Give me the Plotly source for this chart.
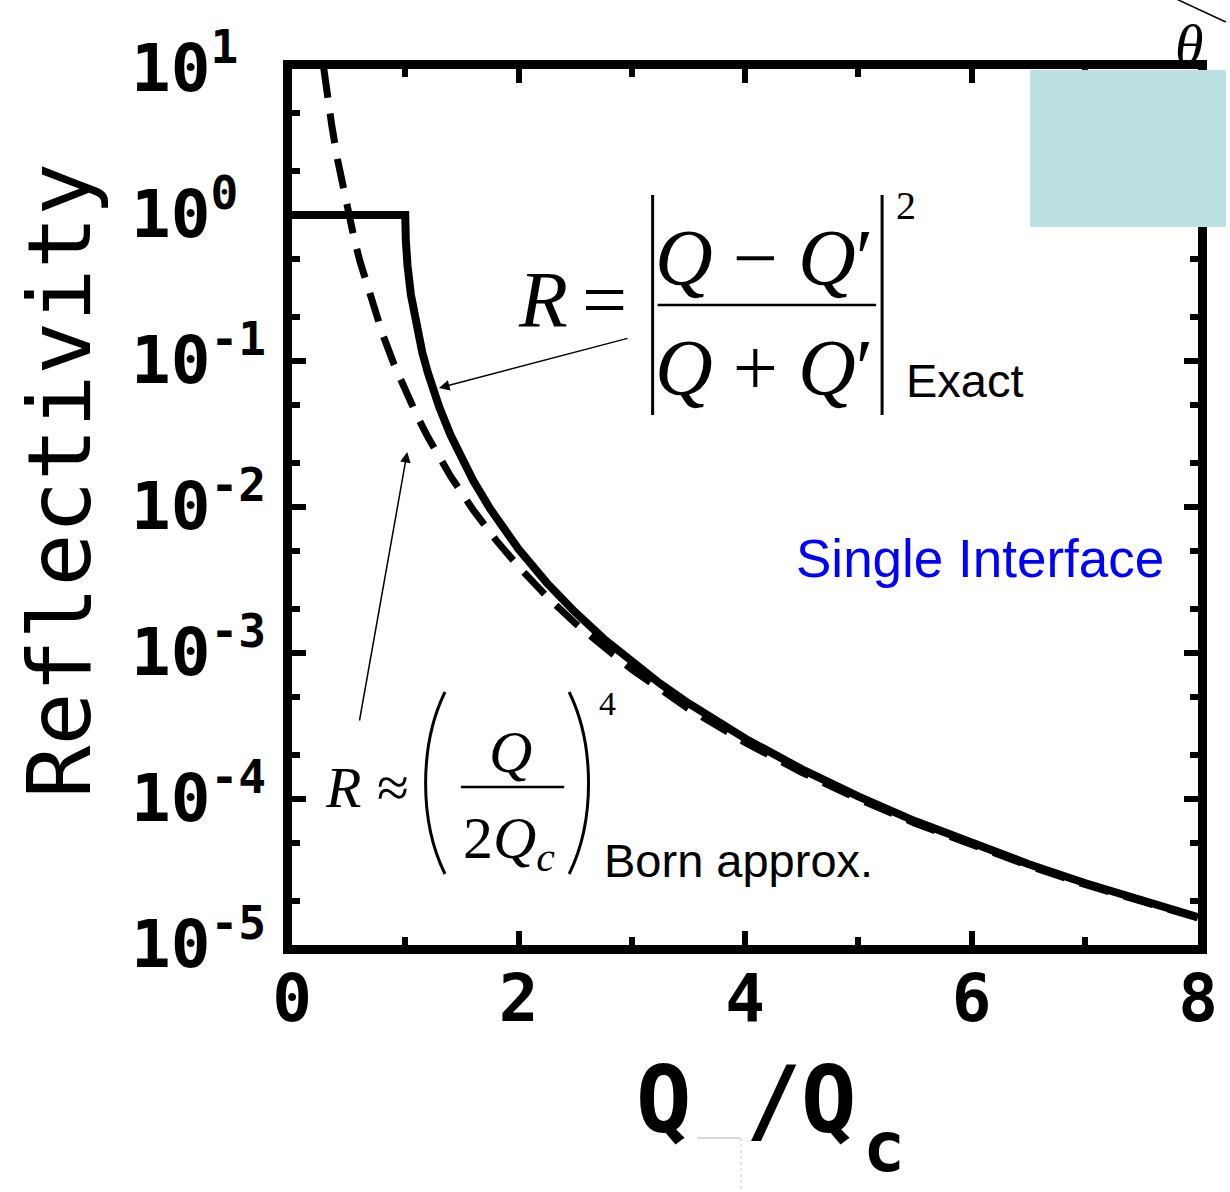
import plotly.graph_objects as go

# Reflectivity of a single interface versus normalised wavevector Q/Qc
exact_q = [0.0, 1.0, 1.005, 1.01, 1.02, 1.05, 1.1, 1.15, 1.2, 1.25, 1.3, 1.4, 1.5, 1.6,
           1.75, 1.8, 1.9, 2.0, 2.25, 2.5, 2.75, 3.0, 3.25, 3.5, 4.0, 4.5, 5.0, 5.5,
           6.0, 6.5, 7.0, 7.5, 8.0]
exact_r = [1.0, 1.0, 0.670, 0.568, 0.450, 0.284, 0.170, 0.1148, 0.0831, 0.0625, 0.0484,
           0.0311, 0.0213, 0.01518, 0.00971, 0.00847, 0.00655, 0.00515, 0.00302, 0.001903,
           0.001256, 8.67e-4, 6.18e-4, 4.53e-4, 2.60e-4, 1.603e-4, 1.041e-4, 7.06e-5,
           4.96e-5, 3.59e-5, 2.66e-5, 2.01e-5, 1.55e-5]

born_q = [0.28, 0.3, 0.325, 0.35, 0.4, 0.45, 0.5, 0.55, 0.6, 0.7, 0.8, 0.9, 1.0, 1.1,
          1.2, 1.4, 1.6, 1.8, 2.0, 2.25, 2.5, 2.75, 3.0, 3.5, 4.0, 4.5, 5.0, 5.5, 6.0,
          6.5, 7.0, 7.5, 8.0]
born_r = [10.17, 7.72, 5.60, 4.16, 2.44, 1.524, 1.0, 0.683, 0.482, 0.260, 0.1526,
          0.0953, 0.0625, 0.04268, 0.0301, 0.01627, 0.00954, 0.00595, 0.00391, 0.002439,
          0.0016, 0.001093, 7.72e-4, 4.16e-4, 2.44e-4, 1.524e-4, 1.0e-4, 6.83e-5,
          4.82e-5, 3.50e-5, 2.60e-5, 1.98e-5, 1.53e-5]

x_ticks = [0, 2, 4, 6, 8]
x_minor = [1, 3, 5, 7]
y_exponents = [-5, -4, -3, -2, -1, 0, 1]
y_minor = [m * 10.0 ** e for e in range(-5, 1) for m in (2, 5)]

W, H = 1230, 1192
L, R, T, B = 292, 1204, 69, 945
PW, PH = R - L, B - T


def px(x):
    return (x - L) / PW


def py(y):
    return 1 - (y - T) / PH


MONO = "DejaVu Sans Mono"
SERIF = "Liberation Serif"
SANS = "Liberation Sans"

fig = go.Figure()
fig.add_trace(go.Scatter(x=born_q, y=born_r, mode="lines",
                         line=dict(color="black", width=7, dash="30px,16px"),
                         hoverinfo="skip"))
fig.add_trace(go.Scatter(x=exact_q, y=exact_r, mode="lines",
                         line=dict(color="black", width=8),
                         hoverinfo="skip"))

axis_common = dict(showline=True, linecolor="black", linewidth=9, mirror="ticks",
                   ticks="inside", ticklen=14, tickwidth=6, tickcolor="black",
                   showgrid=False, zeroline=False)

fig.update_xaxes(range=[0, 8], tickvals=x_ticks, ticktext=[str(v) for v in x_ticks],
                 tickfont=dict(family=MONO, size=66, color="black", weight="bold"),
                 ticklabelstandoff=-12,
                 minor=dict(tickvals=x_minor, ticklen=8, tickwidth=6, tickcolor="black",
                            ticks="inside"),
                 **axis_common)
fig.update_yaxes(type="log", range=[-5, 1],
                 tickvals=[10.0 ** e for e in y_exponents], showticklabels=False,
                 minor=dict(tickvals=y_minor, ticklen=8, tickwidth=6, tickcolor="black",
                            ticks="inside"),
                 **axis_common)

ann = []
# y tick labels, left aligned
for e in y_exponents:
    ann.append(dict(x=px(128), xref="paper", y=e, yref="y", xanchor="left",
                    yanchor="middle", yshift=6, showarrow=False,
                    text="10<sup>%s</sup>" % ("-%d" % -e if e < 0 else str(e)),
                    font=dict(family=MONO, size=66, color="black", weight="bold")))

# axis titles
ann.append(dict(x=px(57), y=py(481), xref="paper", yref="paper", textangle=-90,
                xanchor="center", yanchor="middle",
                text="Reflectivity", showarrow=False,
                font=dict(family=MONO, size=88, color="black")))
for ch, cx, cy, sz in [("Q", 666, 1100, 92), ("/", 777, 1100, 92), ("Q", 832, 1100, 92),
                       ("c", 888, 1147, 70)]:
    ann.append(dict(x=px(cx), y=py(cy), xref="paper", yref="paper", text=ch,
                    xanchor="center", yanchor="middle",
                    showarrow=False, font=dict(family=MONO, size=sz, color="black",
                                               weight="bold")))


def txt(s, cx, cy, size, family=SERIF, anchor="center", color="black"):
    ann.append(dict(x=px(cx), y=py(cy), xref="paper", yref="paper", text=s,
                    xanchor=anchor, yanchor="middle", showarrow=False,
                    font=dict(family=family, size=size, color=color)))


# exact Fresnel expression
txt("<i>R</i>", 545, 300, 80)
txt("=", 607, 300, 80)
txt("<i>Q</i> − <i>Q</i>′", 767, 258, 80)
txt("<i>Q</i> + <i>Q</i>′", 767, 368, 80)
txt("2", 910, 205, 40)
txt("Exact", 908, 380, 47, SANS, "left")

# Born approximation expression
txt("<i>R</i>", 343, 787, 58)
txt("≈", 394, 787, 58)
txt("<i>Q</i>", 512, 752, 60)
txt("2<i>Q</i><sub><i>c</i></sub>", 510, 842, 60)
txt("4", 610, 703, 34)
txt("Born approx.", 604, 860, 47, SANS, "left")

txt("Single Interface", 797, 558, 53, SANS, "left", "#0000ff")
txt("<i>θ</i>", 1195, 45, 58)

# arrows pointing from the expressions to the curves
ann.append(dict(x=px(440), y=py(388), xref="paper", yref="paper", text="",
                showarrow=True, ax=190, ay=-50, arrowhead=2, arrowsize=1.4,
                arrowwidth=1.5, arrowcolor="black", standoff=0))
ann.append(dict(x=px(408), y=py(452), xref="paper", yref="paper", text="",
                showarrow=True, ax=-48, ay=270, arrowhead=2, arrowsize=1.4,
                arrowwidth=1.5, arrowcolor="black", standoff=0))


def line(x0, y0, x1, y1, w=2.5, color="black", dash="solid"):
    return dict(type="line", xref="paper", yref="paper", x0=px(x0), y0=py(y0),
                x1=px(x1), y1=py(y1), line=dict(color=color, width=w, dash=dash),
                layer="above")


def path_px(points):
    (x0, y0), (c1x, c1y), (c2x, c2y), (x1, y1) = points
    return "M %f,%f C %f,%f %f,%f %f,%f" % (px(x0), py(y0), px(c1x), py(c1y),
                                             px(c2x), py(c2y), px(x1), py(y1))


shapes = [
    # fraction bars and absolute-value bars
    line(660, 305, 880, 305),
    line(655, 195, 655, 415, 3),
    line(886, 195, 886, 415, 3),
    line(462, 787, 566, 787),
    # parentheses
    dict(type="path", xref="paper", yref="paper", layer="above",
         path=path_px([(446, 692), (420, 745), (420, 822), (446, 874)]),
         line=dict(color="black", width=3)),
    dict(type="path", xref="paper", yref="paper", layer="above",
         path=path_px([(571, 692), (597, 745), (597, 822), (571, 874)]),
         line=dict(color="black", width=3)),
    # light panel at the top right
    dict(type="rect", xref="paper", yref="paper", x0=px(1035), y0=py(70),
         x1=px(1232), y1=py(227), fillcolor="#bce0e2", line=dict(width=0),
         layer="above"),
    line(1180, -2, 1232, 22, 1.5),
    line(700, 1138, 743, 1138, 1, "#b0b0b0"),
    line(744, 1138, 744, 1192, 1, "#c8c8c8", "dot"),
]

fig.update_layout(width=W, height=H, margin=dict(l=L, r=W - R, t=T, b=H - B),
                  paper_bgcolor="white", plot_bgcolor="white", showlegend=False,
                  annotations=ann, shapes=shapes)

fig.write_html("out.html")
